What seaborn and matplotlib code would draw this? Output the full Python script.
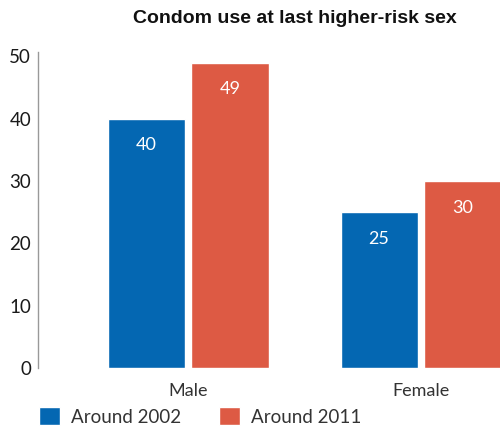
import matplotlib.pyplot as plt
import seaborn as sns
import pandas as pd
from matplotlib.patches import Patch

# Data
sexes = ["Male", "Female"]
periods = ["Around 2002", "Around 2011"]
values_2002 = [40, 25]
values_2011 = [49, 30]
colors = ["#0467B2", "#DD5A44"]

df = pd.DataFrame({
    "sex": sexes * 2,
    "period": [periods[0]] * 2 + [periods[1]] * 2,
    "value": values_2002 + values_2011,
})

sns.set_theme(style="white")
plt.rcParams["font.family"] = ["Lato", "DejaVu Sans"]

fig = plt.figure(figsize=(5, 4.28), dpi=100)
ax = fig.add_axes([0.076, 0.1402, 0.924, 0.7383])

sns.barplot(data=df, x="sex", y="value", hue="period", order=sexes,
            hue_order=periods, palette=colors, width=0.72, gap=0.08,
            saturation=1, legend=False, ax=ax)

# value labels inside bars
for container in ax.containers:
    ax.bar_label(container, padding=-25, color="white", fontsize=13)

ax.set_xlim(-0.644, 1.339)
ax.set_ylim(0, 50.7)
ax.set_yticks([0, 10, 20, 30, 40, 50])
ax.set_xlabel("")
ax.set_ylabel("")
ax.tick_params(axis="y", length=0, labelsize=13.5, pad=5, labelcolor="#1a1a1a")
ax.tick_params(axis="x", length=0, labelsize=13, pad=11, labelcolor="#333333")

sns.despine(ax=ax, top=True, right=True, bottom=True)
ax.spines["left"].set_color("#999999")
ax.spines["left"].set_linewidth(1)

fig.text(0.59, 0.957, "Condom use at last higher-risk sex", ha="center",
         va="center", fontsize=14, fontweight="bold",
         family=["Liberation Sans", "DejaVu Sans"], color="#111111")

handles = [Patch(facecolor=c, label=p) for c, p in zip(colors, periods)]
fig.legend(handles=handles, loc="center left", bbox_to_anchor=(0.045, 0.027),
           ncol=2, frameon=False, handlelength=1.1, handleheight=1.1,
           handletextpad=0.6, columnspacing=2.0,
           prop={"size": 13.5}, labelcolor="#333333")

fig.savefig("out.png", dpi=100)
